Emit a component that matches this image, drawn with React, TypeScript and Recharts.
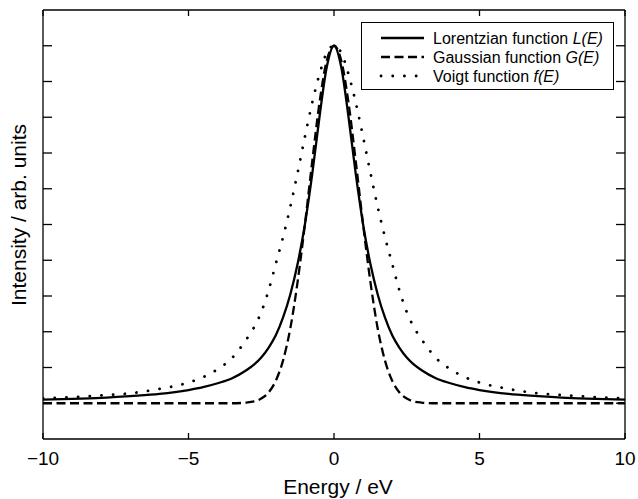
import React from 'react';
import { LineChart, Line, XAxis, YAxis, Legend, Label } from 'recharts';

const energy = [-10, -9, -8, -7, -6, -5, -4.5, -4, -3.5, -3, -2.75, -2.5, -2.25, -2, -1.75, -1.5, -1.25, -1, -0.75, -0.5, -0.25, 0, 0.25, 0.5, 0.75, 1, 1.25, 1.5, 1.75, 2, 2.25, 2.5, 2.75, 3, 3.5, 4, 4.5, 5, 6, 7, 8, 9, 10];
const lorentzian = [0.01, 0.012, 0.015, 0.02, 0.026, 0.037, 0.045, 0.056, 0.07, 0.093, 0.108, 0.128, 0.155, 0.19, 0.24, 0.305, 0.39, 0.5, 0.64, 0.8, 0.94, 1, 0.94, 0.8, 0.64, 0.5, 0.39, 0.305, 0.24, 0.19, 0.155, 0.128, 0.108, 0.093, 0.07, 0.056, 0.045, 0.037, 0.026, 0.02, 0.015, 0.012, 0.01];
const gaussian = [0, 0, 0, 0, 0, 0, 0, 0, 0, 0.002, 0.005, 0.013, 0.03, 0.063, 0.12, 0.21, 0.34, 0.5, 0.675, 0.84, 0.958, 1, 0.958, 0.84, 0.675, 0.5, 0.34, 0.21, 0.12, 0.063, 0.03, 0.013, 0.005, 0.002, 0, 0, 0, 0, 0, 0, 0, 0, 0];
const voigt = [0.014, 0.017, 0.022, 0.028, 0.04, 0.058, 0.073, 0.095, 0.127, 0.18, 0.212, 0.255, 0.315, 0.39, 0.465, 0.55, 0.645, 0.745, 0.84, 0.92, 0.98, 1, 0.98, 0.92, 0.84, 0.745, 0.645, 0.55, 0.465, 0.39, 0.315, 0.255, 0.212, 0.18, 0.127, 0.095, 0.073, 0.058, 0.04, 0.028, 0.022, 0.017, 0.014];

const xTicks = [-10, -5, 0, 5, 10];
const yTicks = [0, 0.1, 0.2, 0.3, 0.4, 0.5, 0.6, 0.7, 0.8, 0.9, 1];

const legendNames = ['Lorentzian function ', 'Gaussian function ', 'Voigt function '];
const legendSymbols = ['L(E)', 'G(E)', 'f(E)'];

const data = energy.map((e, i) => ({ e, L: lorentzian[i], G: gaussian[i], V: voigt[i] }));

const FONT = '"Liberation Sans", Arial, Helvetica, sans-serif';
const INK = '#000';
const DASH = '9 4.5';
const DOTS = '0.1 11.6';

const fmt = (v: number) => (v < 0 ? `\u2212${Math.abs(v)}` : `${v}`);

const BottomTick = ({ x, y, payload }: any) => (
  <g>
    <line x1={x} y1={y} x2={x} y2={y - 6} stroke={INK} strokeWidth={1.3} />
    <text x={x} y={y + 26} textAnchor="middle" fontSize={19} fontFamily={FONT} fill={INK}>
      {fmt(payload.value)}
    </text>
  </g>
);

const TopTick = ({ x, y }: any) => (
  <line x1={x} y1={y} x2={x} y2={y + 6} stroke={INK} strokeWidth={1.3} />
);

const LeftTick = ({ x, y }: any) => (
  <line x1={x} y1={y} x2={x + 9} y2={y} stroke={INK} strokeWidth={1.3} />
);

const RightTick = ({ x, y }: any) => (
  <line x1={x} y1={y} x2={x - 9} y2={y} stroke={INK} strokeWidth={1.3} />
);

const styles = [
  { dash: undefined, width: 2.3, cap: 'butt' },
  { dash: DASH, width: 2.3, cap: 'butt' },
  { dash: DOTS, width: 2.8, cap: 'round' },
];

const LegendBox = () => (
  <svg width={253} height={68} style={{ display: 'block' }}>
    <rect x={0.5} y={0.5} width={252} height={67} fill="#fff" stroke={INK} strokeWidth={1} />
    {legendNames.map((name, i) => {
      const cy = 16 + i * 19;
      const s = styles[i];
      return (
        <g key={name}>
          <line
            x1={20}
            y1={cy}
            x2={63}
            y2={cy}
            stroke={INK}
            strokeWidth={s.width}
            strokeDasharray={s.dash}
            strokeLinecap={s.cap as any}
          />
          <text x={72} y={cy + 5.5} fontSize={16} fontFamily={FONT} fill={INK}>
            {name}
            <tspan fontStyle="italic">{legendSymbols[i]}</tspan>
          </text>
        </g>
      );
    })}
  </svg>
);

export default function App() {
  return (
    <div style={{ position: 'absolute', left: 0, top: 0, width: 638, height: 499, background: '#fff' }}>
      <LineChart width={638} height={499} data={data} margin={{ top: 9, right: 12, bottom: 59, left: 42 }}>
        <XAxis
          dataKey="e"
          type="number"
          domain={[-10, 10]}
          ticks={xTicks}
          height={1}
          tickSize={0}
          tickMargin={0}
          tickLine={false}
          tick={<BottomTick />}
          axisLine={{ stroke: INK, strokeWidth: 1.3 }}
          allowDataOverflow
        >
          <Label
            content={() => (
              <text x={338} y={494} textAnchor="middle" fontSize={21} fontFamily={FONT} fill={INK}>
                Energy / eV
              </text>
            )}
          />
        </XAxis>
        <XAxis
          xAxisId="top"
          orientation="top"
          dataKey="e"
          type="number"
          domain={[-10, 10]}
          ticks={xTicks}
          height={1}
          tickSize={0}
          tickMargin={0}
          tickLine={false}
          tick={<TopTick />}
          axisLine={{ stroke: INK, strokeWidth: 1.3 }}
          allowDataOverflow
        />
        <YAxis
          type="number"
          domain={[-0.1, 1.1]}
          ticks={yTicks}
          width={1}
          tickSize={0}
          tickMargin={0}
          tickLine={false}
          tick={<LeftTick />}
          axisLine={{ stroke: INK, strokeWidth: 1.3 }}
          allowDataOverflow
        >
          <Label
            content={() => (
              <text
                transform="translate(26,215) rotate(-90)"
                x={0}
                y={0}
                textAnchor="middle"
                fontSize={21}
                fontFamily={FONT}
                fill={INK}
              >
                Intensity / arb. units
              </text>
            )}
          />
        </YAxis>
        <YAxis
          yAxisId="right"
          orientation="right"
          type="number"
          domain={[-0.1, 1.1]}
          ticks={yTicks}
          width={1}
          tickSize={0}
          tickMargin={0}
          tickLine={false}
          tick={<RightTick />}
          axisLine={{ stroke: INK, strokeWidth: 1.3 }}
          allowDataOverflow
        />
        <Legend
          layout="vertical"
          align="center"
          verticalAlign="middle"
          content={() => <LegendBox />}
          wrapperStyle={{ left: 361, top: 22, width: 253, height: 68 }}
        />
        <Line
          xAxisId="top"
          yAxisId="right"
          dataKey="L"
          stroke="none"
          dot={false}
          activeDot={false}
          legendType="none"
          isAnimationActive={false}
        />
        <Line
          type="monotone"
          dataKey="G"
          stroke={INK}
          strokeWidth={2.3}
          strokeDasharray={DASH}
          dot={false}
          isAnimationActive={false}
        />
        <Line
          type="monotone"
          dataKey="V"
          stroke={INK}
          strokeWidth={2.8}
          strokeDasharray={DOTS}
          strokeLinecap="round"
          dot={false}
          isAnimationActive={false}
        />
        <Line
          type="monotone"
          dataKey="L"
          stroke={INK}
          strokeWidth={2.3}
          dot={false}
          isAnimationActive={false}
        />
      </LineChart>
    </div>
  );
}
